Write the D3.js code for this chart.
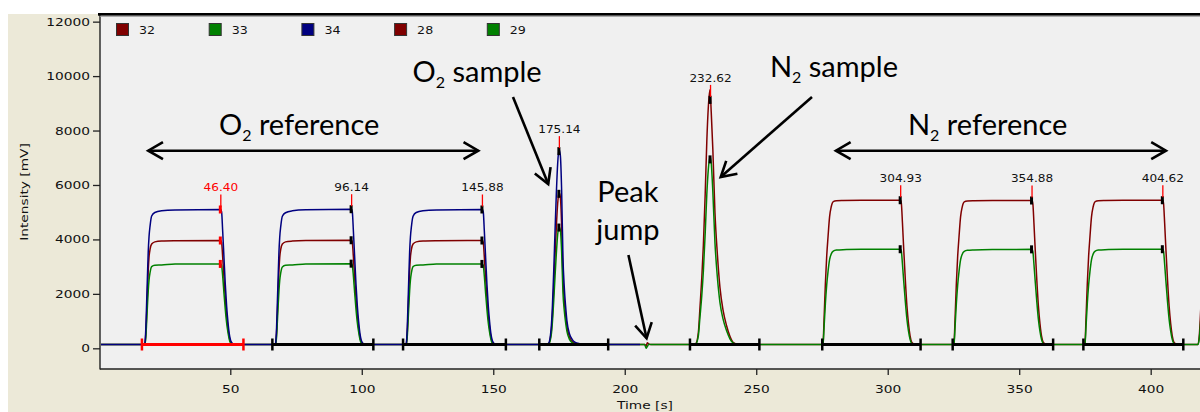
<!DOCTYPE html>
<html><head><meta charset="utf-8">
<script src="https://cdn.jsdelivr.net/npm/d3@7"></script>
<style>
html,body{margin:0;padding:0;background:#fff;}
svg{display:block;}
</style></head><body>
<svg id="chart" width="1200" height="412"></svg>
<script>
// ---------------- data ----------------
const legendLabels = ["32", "33", "34", "28", "29"];
const legendColors = ["#800000", "#008000", "#000080", "#800000", "#008000"];
const xTicks = [50, 100, 150, 200, 250, 300, 350, 400];
const yTicks = [0, 2000, 4000, 6000, 8000, 10000, 12000];

// O2 part: masses 32, 33, 34 (time in s, intensity in mV)
const o2Time = [0,
  17.2,17.5,17.9,18.2,18.5,18.8,19.1,19.5,20.1,21.3,23.9,29.0,46.4,46.7,47.1,47.6,48.1,48.6,49.1,49.6,50.1,50.7,51.4,
  66.9,67.2,67.6,67.9,68.2,68.5,68.8,69.2,69.8,71.0,73.6,78.7,96.14,96.4,96.8,97.3,97.8,98.3,98.8,99.3,99.8,100.4,101.1,
  116.6,116.9,117.3,117.6,117.9,118.2,118.5,118.9,119.5,120.7,123.3,128.4,145.88,146.2,146.6,147.1,147.6,148.1,148.6,149.1,149.6,150.2,150.9,
  170,171,172,172.5,173,173.5,174,174.5,175,175.5,176,176.5,177,177.5,178,179,180,181,183,185,
  205.8];
const s32 = [140,
  140,160,580,1280,2070,2860,3350,3640,3830,3910,3940,3950,3960,3890,3360,2580,1840,1200,760,420,240,170,140,
  140,160,570,1270,2060,2850,3340,3640,3830,3910,3940,3960,3970,3900,3370,2590,1850,1210,770,420,240,170,140,
  140,160,580,1280,2070,2860,3350,3640,3830,3910,3940,3950,3960,3890,3360,2580,1840,1200,760,420,240,170,140,
  140,160,570,1210,2210,3400,4490,5330,5720,5560,4520,2600,1760,1220,800,420,260,190,150,140,
  140];
const s33 = [140,
  140,150,430,980,1570,2110,2500,2790,3000,3050,3060,3095,3100,3040,2660,2020,1430,940,590,330,190,150,140,
  140,150,420,970,1560,2100,2490,2780,2990,3050,3060,3100,3110,3050,2670,2030,1440,950,600,330,190,150,140,
  140,150,430,980,1570,2110,2500,2790,3000,3050,3060,3095,3100,3040,2660,2020,1430,940,590,330,190,150,140,
  140,150,460,970,1760,2660,3500,4180,4470,4350,3550,2050,1390,960,630,330,210,160,145,140,
  140];
const s34 = [140,
  140,170,780,1700,2650,3550,4100,4500,4860,4990,5050,5080,5100,5010,4320,3330,2350,1560,980,540,300,190,140,
  140,170,760,1680,2620,3520,4080,4490,4850,4980,5050,5090,5110,5020,4330,3340,2360,1570,990,550,300,190,140,
  140,170,770,1690,2640,3540,4090,4490,4850,4990,5050,5080,5100,5010,4320,3330,2350,1560,980,540,300,190,140,
  140,180,720,1560,2850,4330,5720,6800,7300,7100,5800,3350,2250,1560,1020,530,330,230,170,140,
  140];

// N2 part: masses 28, 29
const n2Time = [205.8,207.6,208.1,208.6,209.2,210,
  226,227,228,228.6,229.3,229.9,230.6,231.2,231.8,232.4,232.9,233.5,234.3,235.2,236.2,237.4,238.7,240,241.3,243,245,
  275.1,275.4,275.8,276.3,276.8,277.3,277.9,278.5,279.3,280.5,283.0,290.0,304.93,305.2,305.6,306.1,306.7,307.3,307.9,308.5,309.1,309.7,310.5,
  324.9,325.2,325.6,326.1,326.6,327.1,327.7,328.3,329.1,330.3,332.8,339.8,354.88,355.2,355.6,356.1,356.7,357.3,357.9,358.5,359.1,359.7,360.5,
  374.7,375.0,375.4,375.9,376.4,376.9,377.5,378.1,378.9,380.1,382.6,389.6,404.62,404.9,405.3,405.8,406.4,407.0,407.6,408.2,408.8,409.4,410.2,
  417.6,418.0,418.5,419.2];
const s28 = [140,140,80,200,150,140,
  140,170,590,1490,2590,3790,5690,7590,8890,9500,8650,7300,5000,3490,2240,1390,840,440,210,150,140,
  140,170,1090,2390,3390,4090,4840,5190,5390,5420,5430,5440,5440,5310,4610,3610,2510,1560,910,460,230,170,140,
  140,170,1080,2380,3380,4080,4830,5180,5380,5410,5420,5430,5430,5300,4600,3600,2500,1550,900,450,230,170,140,
  140,170,1090,2390,3390,4090,4840,5190,5390,5420,5430,5440,5440,5310,4610,3610,2510,1560,910,460,230,170,140,
  140,140,500,1800];
const s29 = [140,140,0,70,150,140,
  140,160,470,1140,1940,2840,4240,5640,6590,7050,6800,5740,3890,2640,1690,1070,650,350,190,145,140,
  140,160,780,1650,2330,2820,3260,3460,3570,3610,3625,3635,3640,3560,3100,2450,1710,1070,630,330,180,150,140,
  140,160,770,1640,2320,2810,3250,3450,3560,3600,3615,3630,3635,3555,3095,2445,1705,1065,625,325,180,150,140,
  140,160,780,1650,2330,2820,3260,3460,3570,3610,3625,3635,3640,3560,3100,2450,1710,1070,630,330,180,150,140,
  140,140,380,1300];

// peaks (end-of-peak time labels) and integration windows
const peakTimes  = [46.40, 96.14, 145.88, 175.14, 232.62, 304.93, 354.88, 404.62];
const peakLabels = ["46.40", "96.14", "145.88", "175.14", "232.62", "304.93", "354.88", "404.62"];
const peakGas    = ["O2", "O2", "O2", "O2", "N2", "N2", "N2", "N2"];
const segStart = [16.4, 66.0, 115.7, 167.5, 224.8, 275.1, 324.7, 374.4];
const segEnd   = [55.0, 104.4, 154.8, 193.7, 251.2, 312.5, 362.9, 412.4];
const baselineLevel = 140;

// annotations (in data units: time s, intensity mV)
const annoTexts = [
  {main: "O", sub: "2", rest: " reference", t: 45.7, v: 7836},
  {main: "N", sub: "2", rest: " reference", t: 307.7, v: 7836},
  {main: "O", sub: "2", rest: " sample", t: 119.3, v: 9783},
  {main: "N", sub: "2", rest: " sample", t: 255.2, v: 9967}
];
const peakJumpText = [{text: "Peak", t: 201.2, v: 5386}, {text: "jump", t: 201.2, v: 3979}];
const arrows = [
  {t1: 18.8, v1: 7260, t2: 144.3, v2: 7260, both: true},
  {t1: 280.3, v1: 7260, t2: 405.8, v2: 7260, both: true},
  {t1: 157.5, v1: 9230, t2: 170.9, v2: 6036, both: false},
  {t1: 271.2, v1: 9230, t2: 236.5, v2: 6293, both: false},
  {t1: 201.4, v1: 3428, t2: 208.3, v2: 367, both: false}
];

// ---------------- drawing ----------------
const W = 1200, H = 412;
const pL = 100, pR = 1200, pT = 14, pB = 369;
const x = d3.scaleLinear().domain([0.456, 418.75]).range([pL, pR]);
const y = d3.scaleLinear().domain([-760, 12281]).range([pB, pT]);

const svg = d3.select("#chart");
svg.append("rect").attr("width", W).attr("height", H).attr("fill", "#ffffff");
svg.append("rect").attr("x", 8).attr("y", 14).attr("width", W - 8).attr("height", H - 14).attr("fill", "#ece9d8");
svg.append("rect").attr("x", pL).attr("y", pT).attr("width", pR - pL).attr("height", pB - pT).attr("fill", "#f0f0f0");

svg.append("defs").append("clipPath").attr("id", "clip")
  .append("rect").attr("x", pL + 1).attr("y", pT + 2).attr("width", pR - pL).attr("height", pB - pT - 2);

const plot = svg.append("g").attr("clip-path", "url(#clip)");

function series(times, vals) { return times.map((t, i) => [t, vals[i]]); }
const line = d3.line().x(d => x(d[0])).y(d => y(d[1])).curve(d3.curveMonotoneX);

const traces = [
  {times: o2Time, vals: s32, color: "#800000"},
  {times: o2Time, vals: s33, color: "#008000"},
  {times: o2Time, vals: s34, color: "#000080"},
  {times: n2Time, vals: s28, color: "#800000"},
  {times: n2Time, vals: s29, color: "#008000"}
];
traces.forEach(tr => {
  plot.append("path").datum(series(tr.times, tr.vals))
    .attr("d", line).attr("fill", "none").attr("stroke", tr.color)
    .attr("stroke-width", 1.5).attr("stroke-linejoin", "round");
});

function valueAt(times, vals, t) {
  const i = d3.bisectLeft(times, t);
  if (i <= 0) return vals[0];
  if (i >= times.length) return vals[vals.length - 1];
  const t0 = times[i - 1], t1 = times[i];
  const f = (t - t0) / (t1 - t0);
  return vals[i - 1] + f * (vals[i] - vals[i - 1]);
}

// integration windows
segStart.forEach((s, i) => {
  const col = i === 0 ? "#ff0000" : "#000000";
  const yb = y(baselineLevel);
  plot.append("line").attr("x1", x(s)).attr("x2", x(segEnd[i])).attr("y1", yb).attr("y2", yb)
    .attr("stroke", col).attr("stroke-width", 3);
  [s, segEnd[i]].forEach(tt => {
    plot.append("line").attr("x1", x(tt)).attr("x2", x(tt)).attr("y1", yb - 6).attr("y2", yb + 6)
      .attr("stroke", col).attr("stroke-width", 2.5);
  });
});

// peak markers + labels
peakTimes.forEach((pt, i) => {
  const set = peakGas[i] === "O2" ? [[o2Time, s32], [o2Time, s33], [o2Time, s34]] : [[n2Time, s28], [n2Time, s29]];
  const col = i === 0 ? "#ff0000" : "#000000";
  let topY = Infinity;
  set.forEach(([tt, vv]) => {
    const yy = y(valueAt(tt, vv, pt));
    topY = Math.min(topY, yy);
    plot.append("rect").attr("x", x(pt) - 2).attr("y", yy - 4).attr("width", 3).attr("height", 8).attr("fill", col);
  });
  plot.append("line").attr("x1", x(pt)).attr("x2", x(pt)).attr("y1", topY - 15).attr("y2", topY - 3)
    .attr("stroke", "#ff0000").attr("stroke-width", 1.3);
  plot.append("text").attr("transform", `translate(${x(pt)},${topY - 18}) scale(1.1,1)`)
    .attr("text-anchor", "middle").attr("font-family", "DejaVu Sans").attr("font-size", 11)
    .attr("fill", i === 0 ? "#ff0000" : "#111").text(peakLabels[i]);
});

// axes
const yAxis = svg.append("g").attr("transform", `translate(${pL},0)`)
  .call(d3.axisLeft(y).tickValues(yTicks).tickSize(7).tickPadding(3).tickFormat(d3.format("d")));
const xAxis = svg.append("g").attr("transform", `translate(0,${pB})`)
  .call(d3.axisBottom(x).tickValues(xTicks).tickSize(6).tickPadding(10));
[yAxis, xAxis].forEach(a => {
  a.select(".domain").remove();
  a.selectAll(".tick line").attr("stroke", "#222").attr("stroke-width", 1.3);
  a.selectAll(".tick text").attr("font-family", "DejaVu Sans").attr("font-size", 11).attr("fill", "#111");
});
yAxis.selectAll(".tick text").attr("x", -8).attr("transform", "scale(1.25,1)");
xAxis.selectAll(".tick text").attr("transform", "scale(1.25,1)");

svg.append("line").attr("x1", pL).attr("x2", pL).attr("y1", pT).attr("y2", pB + 0.6)
  .attr("stroke", "#222").attr("stroke-width", 1.4);
svg.append("line").attr("x1", pL).attr("x2", pR).attr("y1", pB).attr("y2", pB)
  .attr("stroke", "#222").attr("stroke-width", 1.4);
svg.append("rect").attr("x", pL - 2).attr("y", 13).attr("width", pR - pL + 2).attr("height", 2.7).attr("fill", "#000");
svg.append("line").attr("x1", pL).attr("x2", pR).attr("y1", 16.3).attr("y2", 16.3).attr("stroke", "#999").attr("stroke-width", 1);

// axis titles
svg.append("text").attr("transform", `translate(645,409) scale(1.25,1)`).attr("text-anchor", "middle")
  .attr("font-family", "DejaVu Sans").attr("font-size", 11).attr("fill", "#111").text("Time [s]");
svg.append("text").attr("transform", `translate(28,192) rotate(-90) scale(1.25,1)`).attr("text-anchor", "middle")
  .attr("font-family", "DejaVu Sans").attr("font-size", 11).attr("fill", "#111").text("Intensity [mV]");

// legend
legendLabels.forEach((lab, i) => {
  const lx = 116 + i * 92.7;
  svg.append("rect").attr("x", lx + 0.5).attr("y", 23.5).attr("width", 12).attr("height", 12)
    .attr("fill", legendColors[i]).attr("stroke", "#333").attr("stroke-width", 1);
  svg.append("text").attr("transform", `translate(${lx + 23},34) scale(1.15,1)`)
    .attr("font-family", "DejaVu Sans").attr("font-size", 11).attr("fill", "#111").text(lab);
});

// annotations
const anno = svg.append("g").attr("font-family", "Lato").attr("fill", "#000");
annoTexts.forEach(a => {
  const t = anno.append("text").attr("x", x(a.t)).attr("y", y(a.v)).attr("font-size", 29);
  t.append("tspan").text(a.main);
  t.append("tspan").attr("font-size", 16).attr("dy", 6).text(a.sub);
  t.append("tspan").attr("dy", -6).text(a.rest);
});
peakJumpText.forEach(p => {
  anno.append("text").attr("x", x(p.t)).attr("y", y(p.v)).attr("font-size", 29)
    .attr("text-anchor", "middle").text(p.text);
});

function head(g, tipX, tipY, fromX, fromY) {
  const ang = Math.atan2(fromY - tipY, fromX - tipX);
  const L = 17, a = Math.PI / 6;
  const p1 = [tipX + L * Math.cos(ang + a), tipY + L * Math.sin(ang + a)];
  const p2 = [tipX + L * Math.cos(ang - a), tipY + L * Math.sin(ang - a)];
  g.append("path").attr("d", `M${p1[0]},${p1[1]}L${tipX},${tipY}L${p2[0]},${p2[1]}`)
    .attr("fill", "none").attr("stroke", "#000").attr("stroke-width", 2.6).attr("stroke-linejoin", "miter");
}
arrows.forEach(ar => {
  const X1 = x(ar.t1), Y1 = y(ar.v1), X2 = x(ar.t2), Y2 = y(ar.v2);
  svg.append("line").attr("x1", X1).attr("y1", Y1).attr("x2", X2).attr("y2", Y2)
    .attr("stroke", "#000").attr("stroke-width", 2.6);
  head(svg, X2, Y2, X1, Y1);
  if (ar.both) head(svg, X1, Y1, X2, Y2);
});
</script>
</body></html>
